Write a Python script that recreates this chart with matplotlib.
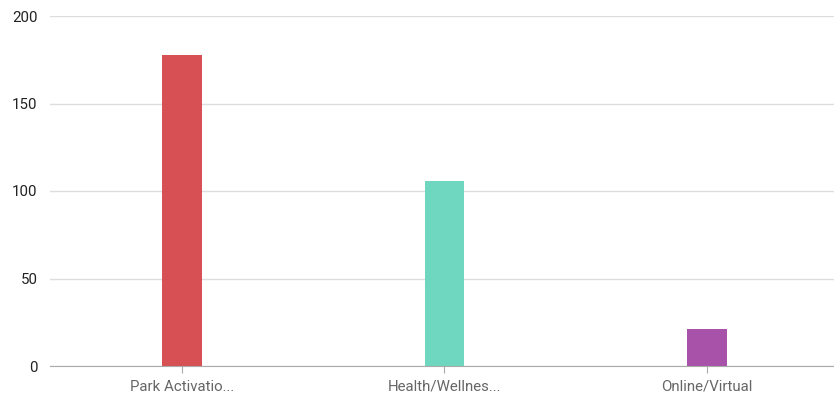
import matplotlib
matplotlib.use("Agg")
import matplotlib.pyplot as plt

categories = ["Park Activatio...", "Health/Wellnes...", "Online/Virtual"]
values = [178, 106, 21]
colors = ["#d64a4d", "#6ad6bd", "#a64ca6"]
yticks = [0, 50, 100, 150, 200]

plt.rcParams['font.family'] = ['Roboto', 'DejaVu Sans']

fig = plt.figure(figsize=(8.34, 4.01), dpi=100)
ax = fig.add_axes([50/834, 1 - 366/401, 784/834, 350/401])

x = list(range(len(categories)))
ax.bar(x, values, width=0.152, color=colors, alpha=0.97, zorder=3)
ax.set_xlim(-0.503, 2.484)
ax.set_ylim(0, 200)
ax.set_yticks(yticks)
ax.set_yticklabels([str(t) for t in yticks], fontsize=10.8, color="#222222")
ax.set_xticks(x)
ax.set_xticklabels(categories, fontsize=10.8, color="#666666")
ax.grid(axis="y", color="#dddddd", linewidth=1, zorder=0)
for s in ["top", "right", "left"]:
    ax.spines[s].set_visible(False)
ax.spines["bottom"].set_color("#aaaaaa")
ax.spines["bottom"].set_zorder(4)
ax.tick_params(axis="y", length=0, pad=9)
ax.tick_params(axis="x", length=5, color="#aaaaaa", pad=5)

fig.savefig("out.png", dpi=100)
